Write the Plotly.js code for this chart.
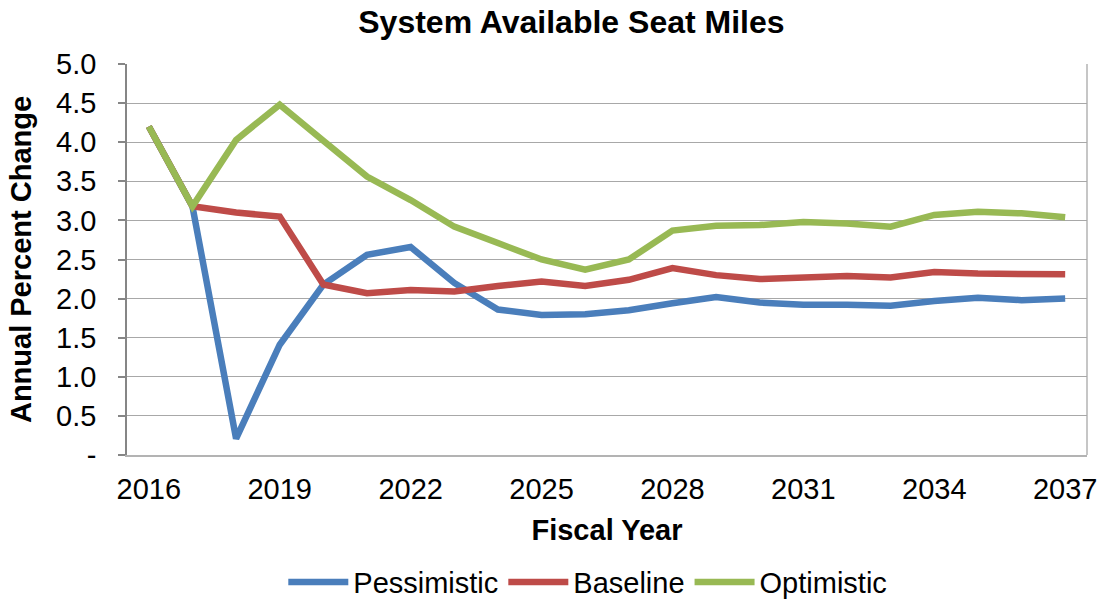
<!DOCTYPE html>
<html>
<head>
<meta charset="utf-8">
<script src="https://cdn.plot.ly/plotly-3.0.1.min.js"></script>
<style>
  html, body { margin: 0; padding: 0; background: #ffffff; }
  #chart { width: 1101px; height: 599px; }
</style>
</head>
<body>
<div id="chart"></div>
<script>
// Fiscal years on the horizontal axis
const years = [2016, 2017, 2018, 2019, 2020, 2021, 2022, 2023, 2024, 2025, 2026,
               2027, 2028, 2029, 2030, 2031, 2032, 2033, 2034, 2035, 2036, 2037];

// Annual percent change in system available seat miles, by scenario
const pessimistic = [4.20, 3.18, 0.21, 1.41, 2.18, 2.56, 2.66, 2.20, 1.86, 1.79, 1.80,
                     1.85, 1.94, 2.02, 1.95, 1.92, 1.92, 1.91, 1.97, 2.01, 1.98, 2.00];
const baseline    = [4.20, 3.18, 3.10, 3.05, 2.18, 2.07, 2.11, 2.09, 2.16, 2.22, 2.16,
                     2.24, 2.39, 2.30, 2.25, 2.28, 2.29, 2.27, 2.34, 2.32, 2.31, 2.31];
const optimistic  = [4.20, 3.18, 4.03, 4.48, 4.02, 3.56, 3.26, 2.92, 2.71, 2.50, 2.37,
                     2.50, 2.87, 2.93, 2.94, 2.98, 2.96, 2.92, 3.07, 3.11, 3.09, 3.04];

// Axis tick labels
const xTickYears  = [2016, 2019, 2022, 2025, 2028, 2031, 2034, 2037];
const yTickValues = [0, 0.5, 1, 1.5, 2, 2.5, 3, 3.5, 4, 4.5, 5];
const yTickLabels = ["-", "0.5", "1.0", "1.5", "2.0", "2.5", "3.0", "3.5", "4.0", "4.5", "5.0"];

const FONT = "Liberation Sans, Arial, sans-serif";

function series(name, values, color) {
  return {
    type: "scatter",
    mode: "lines",
    name: name,
    x: years,
    y: values,
    line: { color: color, width: 6.5 },
    hoverinfo: "x+y+name"
  };
}

const data = [
  series("Pessimistic", pessimistic, "#4A7EBB"),
  series("Baseline", baseline, "#BE4B48"),
  series("Optimistic", optimistic, "#98B954")
];

const layout = {
  width: 1101,
  height: 599,
  paper_bgcolor: "#ffffff",
  plot_bgcolor: "#ffffff",
  font: { family: FONT, size: 29, color: "#000000" },
  margin: { l: 127, r: 14, t: 64, b: 144, autoexpand: false },
  title: {
    text: "<b>System Available Seat Miles</b>",
    font: { family: FONT, size: 32, color: "#000000" },
    x: 0.519, xanchor: "center",
    y: 0.963, yanchor: "middle"
  },
  xaxis: {
    type: "linear",
    range: [2015.5, 2037.5],
    tickmode: "array",
    tickvals: xTickYears,
    ticktext: xTickYears.map(String),
    ticks: "",
    showgrid: false,
    zeroline: false,
    showline: true,
    linecolor: "#b3b3b3",
    linewidth: 1.5,
    automargin: false,
    ticklabelstandoff: 7,
    tickfont: { family: FONT, size: 29 },
    title: {
      text: "<b>Fiscal Year</b>",
      font: { family: FONT, size: 29 },
      standoff: 16
    }
  },
  yaxis: {
    range: [0, 5],
    tickmode: "array",
    tickvals: yTickValues,
    ticktext: yTickLabels,
    ticks: "outside",
    ticklen: 7,
    tickwidth: 1.5,
    tickcolor: "#868686",
    showline: true,
    linecolor: "#868686",
    linewidth: 1.5,
    showgrid: true,
    gridcolor: "#a8a8a8",
    gridwidth: 1.3,
    zeroline: false,
    automargin: false,
    ticklabelstandoff: 16,
    tickfont: { family: FONT, size: 29 },
    title: {
      text: "<b>Annual Percent Change</b>",
      font: { family: FONT, size: 29 },
      standoff: 16
    }
  },
  shapes: [
    {
      type: "line", xref: "paper", yref: "paper",
      x0: 1, x1: 1, y0: 0, y1: 1,
      line: { color: "#b3b3b3", width: 1.5 },
      layer: "below"
    }
  ],
  showlegend: true,
  legend: {
    orientation: "h",
    x: 0.48, xanchor: "center",
    y: -0.325, yanchor: "middle",
    font: { family: FONT, size: 29, color: "#000000" },
    itemwidth: 60,
    tracegroupgap: 0,
    bgcolor: "rgba(0,0,0,0)"
  }
};

Plotly.newPlot("chart", data, layout, { displayModeBar: false, responsive: false });
</script>
</body>
</html>
